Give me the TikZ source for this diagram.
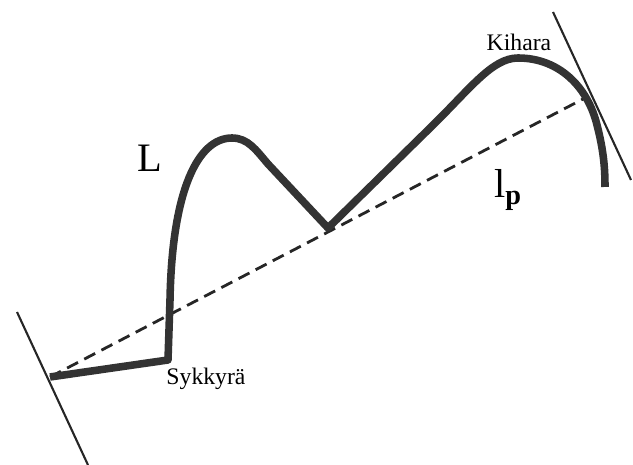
\documentclass[tikz,border=0pt]{standalone}
\usepackage{fontspec}
\setmainfont{Liberation Serif}
\usetikzlibrary{calc}
\tikzset{
  % the measured wire (thick, dark)
  wire/.style    = {line width=4.3pt, draw=black!80, line join=round, line cap=butt},
  % straight chord between the end points
  chord/.style   = {line width=1.6pt, draw=black!85, dash pattern=on 7pt off 4pt},
  % tangent lines at the ends
  tang/.style    = {line width=1.2pt, draw=black!85},
  % small labels on the wire
  lbl/.style     = {font=\fontsize{13.5}{15}\selectfont, inner sep=1pt},
  % big symbols
  sym/.style     = {font=\fontsize{23}{25}\selectfont, inner sep=0pt},
}
\begin{document}
\begin{tikzpicture}[x=0.02cm, y=-0.02cm]
  \useasboundingbox (0,0) rectangle (633,465);

  % end points and turning points of the wire
  \coordinate (start)  at (50,377);
  \coordinate (bend)   at (168,360);
  \coordinate (peakA)  at (232,138);
  \coordinate (valley) at (328,228);
  \coordinate (peakB)  at (518,58);
  \coordinate (tip)    at (605,187);
  \coordinate (touch)  at (585,98);

  % tangent lines
  \coordinate (tlA) at (17,312);
  \coordinate (tlB) at (88,465);
  \coordinate (trA) at (553,12);
  \coordinate (trB) at (631,180);
  \draw[tang] (tlA) -- (tlB);
  \draw[tang] (trA) -- (trB);

  % chord l_p
  \draw[chord] (start) -- (touch);

  % wire L
  \draw[wire] (start) -- (bend) -- (170,300)
        .. controls (172,190) and (198,138) .. (peakA)
        .. controls (248,138) and (256,150) .. (268,164)
        -- (valley) -- (430,128)
        .. controls (470,89) and (492,58) .. (peakB)
        .. controls (560,58) and (588,88) .. (597,125)
        .. controls (604,152) and (605,170) .. (tip);

  % labels
  \node[sym] (Llab)  at (150,158) {L};
  \node[sym] (lplab) at (508,190) {l\textsubscript{\textbf{p}}};
  \node[lbl] (kih)   at (519,42)  {Kihara};
  \node[lbl] (syk)   at (206,379) {Sykkyrä};
\end{tikzpicture}
\end{document}
